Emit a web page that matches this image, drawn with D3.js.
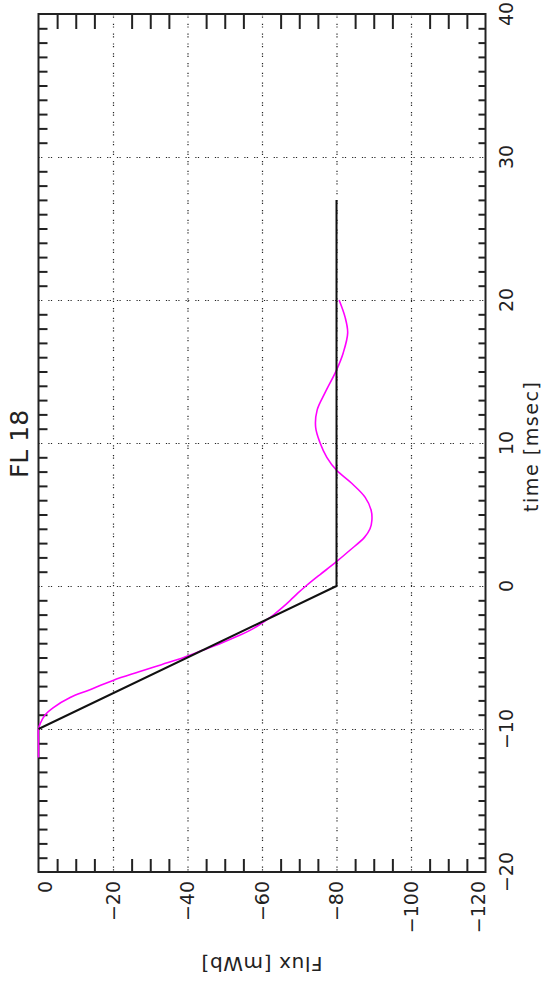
<!DOCTYPE html>
<html>
<head>
    <title>FL 18</title>
    <script src="https://d3js.org/d3.v7.min.js"></script>
    <style>
        body { background: #fff; margin: 0; overflow: hidden; }
        text { font-family: 'DejaVu Sans', sans-serif; fill: #222; }
        .grid line { stroke: #222; stroke-width: 1.2; stroke-dasharray: 1.2,1.4,1.2,6; }
        .ticks line { stroke: #222; stroke-width: 2; }
    </style>
</head>
<body>
<svg width="545" height="986"></svg>
<script>
// DATA ========================================================
const fluxGrid = [0, -20, -40, -60, -80, -100, -120];
const timeGrid = [-20, -10, 0, 10, 20, 30, 40];

// step response (black)
const stepTime = [-10, 0, 27];
const stepFlux = [0, -80, -80];

// measured flux (magenta)
const measTime = [-12, -11, -10, -9.6, -9, -8.5, -7.8, -7.3, -6.6, -6, -5.5, -5, -4.5, -4,
    -3.5, -3, -2.5, -2, -1.5, -1, -0.5, 0, 0.8, 1.6, 2.5, 3.4, 4, 4.6, 5.3, 6.2, 7.2, 8.1,
    9, 10, 11.1, 12.3, 13.5, 15.1, 16.3, 17.7, 18.8, 20];
const measFlux = [0, 0, 0, -0.5, -1.8, -4, -8.5, -13.3, -20, -27, -33, -39, -44, -49,
    -53.5, -57.5, -60.5, -63.2, -65.5, -67.6, -69.6, -71.8, -75.6, -79.5, -83.6, -87.5, -89, -89.5, -89.3, -87.7, -84, -80,
    -77.4, -75.6, -74.4, -74.8, -76.9, -80, -81.8, -83, -82.3, -80.7];

// SCALES ======================================================
// the chart is drawn turned on its side: time runs up, flux runs right
const svg = d3.select("svg");
const x = d3.scaleLinear().domain([0, -120]).range([38.5, 485.5]);
const y = d3.scaleLinear().domain([-20, 40]).range([872, 14]);

const minorTime = d3.range(-20, 41, 1).filter(t => t % 10 !== 0);
const minorFlux = d3.range(0, -121, -5).filter(f => f % 20 !== 0);

// GRID ========================================================
svg.append("g").attr("class", "grid")
    .attr("transform", `translate(0,${y(40)})`)
    .call(d3.axisBottom(x).tickValues(fluxGrid.slice(1, -1)).tickSize(y(-20) - y(40)).tickFormat(""))
    .call(g => g.select(".domain").remove());

svg.append("g").attr("class", "grid")
    .attr("transform", `translate(${x(0)},0)`)
    .call(d3.axisRight(y).tickValues(timeGrid.slice(1, -1)).tickSize(x(-120) - x(0)).tickFormat(""))
    .call(g => g.select(".domain").remove());

// TICKS =======================================================
const tickAxes = [
    [d3.axisRight(y).tickValues(minorTime).tickSize(9), `translate(${x(0)},0)`],
    [d3.axisLeft(y).tickValues(minorTime).tickSize(7), `translate(${x(-120)},0)`],
    [d3.axisBottom(x).tickValues(minorFlux).tickSize(15), `translate(0,${y(40)})`],
    [d3.axisTop(x).tickValues(minorFlux).tickSize(13), `translate(0,${y(-20)})`]
];
tickAxes.forEach(([ax, tr]) => {
    svg.append("g").attr("class", "ticks")
        .attr("transform", tr)
        .call(ax.tickFormat(""))
        .call(g => g.select(".domain").remove());
});

svg.append("rect")
    .attr("x", x(0)).attr("y", y(40))
    .attr("width", x(-120) - x(0)).attr("height", y(-20) - y(40))
    .attr("fill", "none").attr("stroke", "#222").attr("stroke-width", 2);

// LINES =======================================================
const line = d3.line().x(d => x(d[1])).y(d => y(d[0]));

svg.append("path")
    .datum(measTime.map((t, i) => [t, measFlux[i]]))
    .attr("d", line.curve(d3.curveCatmullRom))
    .attr("fill", "none").attr("stroke", "#ff00ff").attr("stroke-width", 1.6);

svg.append("path")
    .datum(stepTime.map((t, i) => [t, stepFlux[i]]))
    .attr("d", line.curve(d3.curveLinear))
    .attr("fill", "none").attr("stroke", "#111").attr("stroke-width", 2);

// LABELS ======================================================
const lo = x(0) + 7, hi = x(-120) - 7.5;
svg.append("g").selectAll("text")
    .data(fluxGrid)
    .join("text")
    .attr("transform", d => `translate(${Math.min(hi, Math.max(lo, x(d)))},881) rotate(-90)`)
    .attr("text-anchor", "end")
    .attr("dy", "0.36em")
    .attr("font-size", 19)
    .text(d => d < 0 ? "\u2212" + (-d) : d);

svg.append("g").selectAll("text")
    .data(timeGrid)
    .join("text")
    .attr("transform", d => `translate(513,${y(d)}) rotate(-90)`)
    .attr("text-anchor", "middle")
    .attr("font-size", 19)
    .text(d => d < 0 ? "\u2212" + (-d) : d);

svg.append("text")
    .attr("transform", "translate(28,444) rotate(-90)")
    .attr("text-anchor", "middle")
    .attr("font-size", 25)
    .text("FL 18");

svg.append("text")
    .attr("transform", `translate(538,${(y(40) + y(-20)) / 2 + 4}) rotate(-90)`)
    .attr("text-anchor", "middle")
    .attr("font-size", 19)
    .attr("textLength", 130)
    .text("time [msec]");

svg.append("text")
    .attr("transform", `translate(${(x(0) + x(-120)) / 2},957) rotate(180)`)
    .attr("text-anchor", "middle")
    .attr("font-size", 20)
    .attr("textLength", 121)
    .text("Flux [mWb]");
</script>
</body>
</html>
